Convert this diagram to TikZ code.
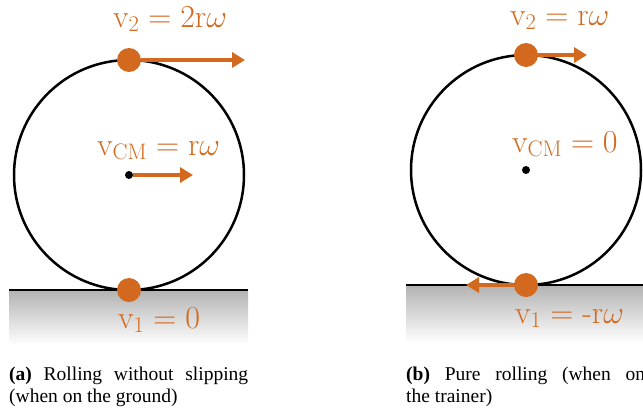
\RequirePackage{fix-cm}
\documentclass[tikz,border=0pt]{standalone}
\usepackage{fontspec}
\newfontfamily\capfont{Liberation Serif}
\usetikzlibrary{arrows.meta, positioning}
\definecolor{velorange}{RGB}{210,105,30}
\tikzset{
    wheel/.style={circle, draw, line width=2.5pt, minimum size=230pt, inner sep=0pt, outer sep=0pt},
    contact/.style={circle, fill=velorange, minimum size=24pt, inner sep=0pt},
    cmdot/.style={circle, fill=black, minimum size=8pt, inner sep=0pt},
    vel/.style={draw=velorange, line width=4pt, -{Triangle[length=13pt, width=15pt]}},
    vlabel/.style={anchor=base west, inner sep=0pt, text=velorange, font=\fontsize{32}{38}\selectfont},
    caption/.style={anchor=base west, inner sep=0pt, text width=239pt, align=justify,
        font=\capfont\fontsize{19.5}{22}\selectfont},
}

\begin{document}
\begin{tikzpicture}[x=1pt, y=-1pt]
    \useasboundingbox (0,0) rectangle (643,410);

    % (a) rolling without slipping
    \shade[top color=black!30, bottom color=white] (9,290) rectangle (248,345);
    \draw[line width=2.5pt] (9,290) -- (248,290);
    \node[wheel] (wheelA) at (129,175) {};
    \node[cmdot] (cmA) at (wheelA.center) {};
    \node[contact] (topA) at (wheelA.north) {};
    \node[contact] (botA) at (wheelA.south) {};
    \coordinate (v2tipA) at (245,60);
    \coordinate (vcmtipA) at (193,175);
    \draw[vel] (topA) -- (v2tipA);
    \draw[vel] (cmA) -- (vcmtipA);
    \node[vlabel] (v2A) at (113,27) {$\mathrm{v}_2 = 2\mathrm{r}\omega$};
    \node[vlabel] (vcmA) at (97,155) {$\mathrm{v}_{\mathrm{CM}} = \mathrm{r}\omega$};
    \node[vlabel] (v1A) at (118,328) {$\mathrm{v}_1 = 0$};
    \node[caption] (capA) at (9,380) {\textbf{(a)} Rolling without slipping (when on the ground)};

    % (b) pure rolling
    \shade[top color=black!30, bottom color=white] (406,285) rectangle (643,343);
    \draw[line width=2.5pt] (406,285) -- (643,285);
    \node[wheel] (wheelB) at (526,170) {};
    \node[cmdot] (cmB) at (wheelB.center) {};
    \node[contact] (topB) at (wheelB.north) {};
    \node[contact] (botB) at (wheelB.south) {};
    \coordinate (v2tipB) at (587,55);
    \coordinate (v1tipB) at (466,285);
    \draw[vel] (topB) -- (v2tipB);
    \draw[vel] (botB) -- (v1tipB);
    \node[vlabel] (v2B) at (510,25) {$\mathrm{v}_2 = \mathrm{r}\omega$};
    \node[vlabel] (vcmB) at (512,152) {$\mathrm{v}_{\mathrm{CM}} = 0$};
    \node[vlabel] (v1B) at (515,323) {$\mathrm{v}_1 = \mbox{-}\mathrm{r}\omega$};
    \node[caption] (capB) at (406,380) {\textbf{(b)} Pure rolling (when on\linebreak the trainer)};
\end{tikzpicture}
\end{document}
